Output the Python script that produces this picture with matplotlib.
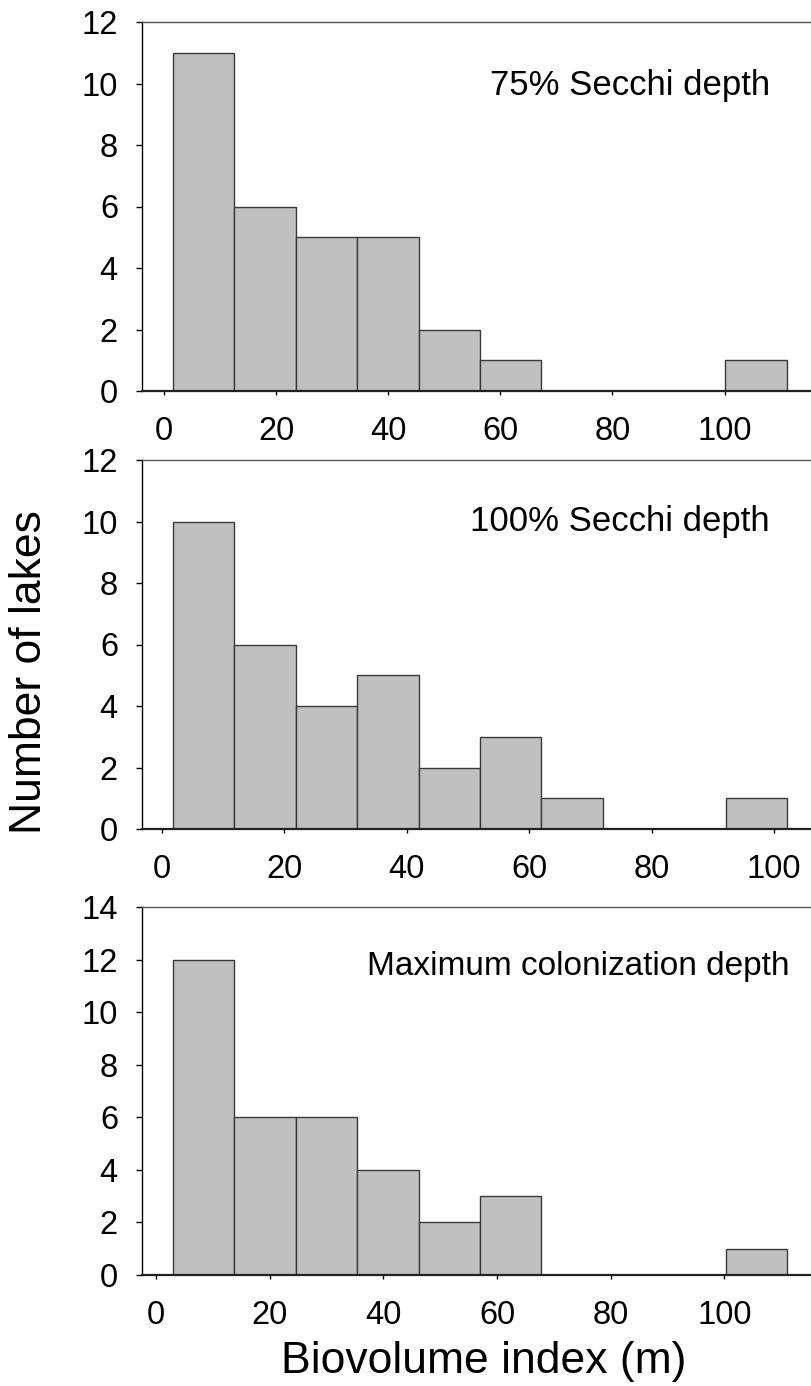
import matplotlib.pyplot as plt

plt.rcParams["font.family"] = ["Liberation Sans", "DejaVu Sans"]

# histogram bins (left edges, common width) and lake counts for each depth criterion
secchi75_start, secchi75_width = 1.6, 10.95
secchi75_counts = [11, 6, 5, 5, 2, 1, 0, 0, 0, 1]

secchi100_start, secchi100_width = 1.8, 10.03
secchi100_counts = [10, 6, 4, 5, 2, 3, 1, 0, 0, 1]

maxcol_start, maxcol_width = 3.0, 10.8
maxcol_counts = [12, 6, 6, 4, 2, 3, 0, 0, 0, 1]

panel_titles = ["75% Secchi depth", "100% Secchi depth", "Maximum colonization depth"]
x_ticks = [0, 20, 40, 60, 80, 100]

W, H = 812, 1386
fig = plt.figure(figsize=(W / 100, H / 100), dpi=100)


def px_axes(top, bottom, left=142, right=812):
    return fig.add_axes([left / W, 1 - bottom / H, (right - left) / W, (bottom - top) / H])


panels = [
    # (top px, bottom px, xlim, ymax, start, width, counts, title x, title y, title size)
    (22, 391, (-3.93, 115.6), 12, secchi75_start, secchi75_width, secchi75_counts, 770, 85, 25),
    (460, 829, (-3.27, 106.2), 12, secchi100_start, secchi100_width, secchi100_counts, 770, 521, 25),
    (907, 1275, (-2.46, 115.4), 14, maxcol_start, maxcol_width, maxcol_counts, 790, 966, 24),
]

for (top, bottom, xlim, ymax, start, width, counts, tx, ty, tsize), title in zip(panels, panel_titles):
    ax = px_axes(top, bottom)
    lefts = [start + i * width for i in range(len(counts))]
    ax.bar(lefts, counts, width=width, align="edge", color="#c0c0c0",
           edgecolor="#3a3a3a", linewidth=1.0, zorder=2)
    ax.set_xlim(*xlim)
    ax.set_ylim(0, ymax)
    ax.set_xticks(x_ticks)
    ax.set_yticks(range(0, ymax + 1, 2))
    ax.spines["right"].set_visible(False)
    ax.spines["top"].set_color("#555555")
    ax.spines["top"].set_linewidth(1.0)
    ax.spines["left"].set_linewidth(1.0)
    ax.spines["bottom"].set_linewidth(1.6)
    ax.spines["bottom"].set_color("#222222")
    ax.tick_params(axis="y", direction="out", length=4.3, width=1.0, pad=13, labelsize=23.5)
    ax.tick_params(axis="x", direction="out", length=3, width=1.0, pad=15, labelsize=23.5)
    fig.text(tx / W, 1 - ty / H, title, ha="right", va="center", fontsize=tsize)

fig.text(30 / W, 1 - 672 / H, "Number of lakes", rotation=90, ha="center", va="center", fontsize=32)
fig.text(484 / W, 1 - 1362 / H, "Biovolume index (m)", ha="center", va="center", fontsize=32)

fig.savefig("out.png", dpi=100)
